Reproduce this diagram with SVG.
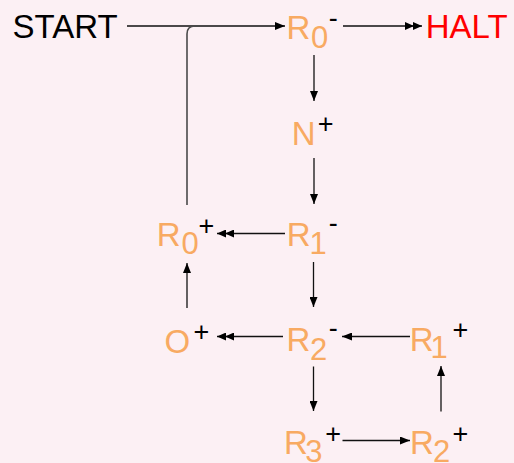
<svg xmlns="http://www.w3.org/2000/svg" width="514" height="463" viewBox="0 0 514 463">
<defs>
<style>
.bg{fill:#FCF0F4}
.ln{fill:none;stroke:#111;stroke-width:1.3}
.lp{fill:none;stroke:#4a4a4a;stroke-width:1.6}
.o{fill:#F8AA62;font-family:"Liberation Sans",Arial,sans-serif;font-size:33px}
.sb{font-size:31px}
.sp{fill:#000;font-family:"Liberation Sans",Arial,sans-serif;font-size:27px}
.k{fill:#000;font-family:"Liberation Sans",Arial,sans-serif;font-size:33px}
.h{fill:#FF0000;font-family:"Liberation Sans",Arial,sans-serif;font-size:33px}
</style>
<marker id="a1" markerUnits="userSpaceOnUse" markerWidth="10" markerHeight="8" viewBox="0 0 10 8" refX="10" refY="4" orient="auto">
<path d="M0,0 L10,4 L0,8 z" fill="#000"/>
</marker>
<marker id="a2" markerUnits="userSpaceOnUse" markerWidth="17" markerHeight="8" viewBox="0 0 17 8" refX="17" refY="4" orient="auto">
<path d="M0,0 L9,4 L0,8 z M8,0 L17,4 L8,8 z" fill="#000"/>
</marker>
</defs>
<rect class="bg" x="0" y="0" width="514" height="463"/>
<g id="connectors">
<path class="ln" d="M127,26 H285" marker-end="url(#a1)"/>
<path class="lp" d="M187,205 V34 Q187,26 195,26 H200"/>
<path class="ln" d="M343,26 H422" marker-end="url(#a2)"/>
<path class="ln" d="M314,55 V101" marker-end="url(#a1)"/>
<path class="ln" d="M314,158 V204" marker-end="url(#a1)"/>
<path class="ln" d="M285,233.5 H217" marker-end="url(#a2)"/>
<path class="ln" d="M313.5,262 V307" marker-end="url(#a1)"/>
<path class="ln" d="M187,308 V263" marker-end="url(#a1)"/>
<path class="ln" d="M283,336.5 H217" marker-end="url(#a2)"/>
<path class="ln" d="M410,336.5 H342" marker-end="url(#a1)"/>
<path class="ln" d="M313.5,366.5 V411" marker-end="url(#a1)"/>
<path class="ln" d="M342.5,440.5 H410" marker-end="url(#a1)"/>
<path class="ln" d="M441,411.5 V366" marker-end="url(#a1)"/>
</g>
<g id="start"><text class="k" x="12.5" y="38">START</text></g>
<g id="halt"><text class="h" x="425.7" y="38">HALT</text></g>
<g id="r0minus"><text class="o" x="286.5" y="39">R</text><text class="o sb" x="311" y="48">0</text><text class="sp" x="328.8" y="26.7">-</text></g>
<g id="nplus"><text class="o" x="291.8" y="145">N</text><text class="sp" x="317.8" y="132.8">+</text></g>
<g id="r1minus"><text class="o" x="286.7" y="246">R</text><text class="o sb" x="309.6" y="254">1</text><text class="sp" x="328.8" y="232.4">-</text></g>
<g id="r0plus"><text class="o" x="156.7" y="246">R</text><text class="o sb" x="181.4" y="254">0</text><text class="sp" x="198.5" y="234.5">+</text></g>
<g id="oplus"><text class="o" x="164.4" y="352.5">O</text><text class="sp" x="193.5" y="340.5">+</text></g>
<g id="r2minus"><text class="o" x="286.4" y="350.5">R</text><text class="o sb" x="310" y="359.5">2</text><text class="sp" x="328.8" y="337.4">-</text></g>
<g id="r1plus"><text class="o" x="409.7" y="351">R</text><text class="o sb" x="430.6" y="358">1</text><text class="sp" x="452.5" y="338.5">+</text></g>
<g id="r3plus"><text class="o" x="284" y="454">R</text><text class="o sb" x="305.3" y="461.7">3</text><text class="sp" x="325.2" y="442.5">+</text></g>
<g id="r2plus"><text class="o" x="410" y="454">R</text><text class="o sb" x="433" y="461.7">2</text><text class="sp" x="452.5" y="442.5">+</text></g>
</svg>
